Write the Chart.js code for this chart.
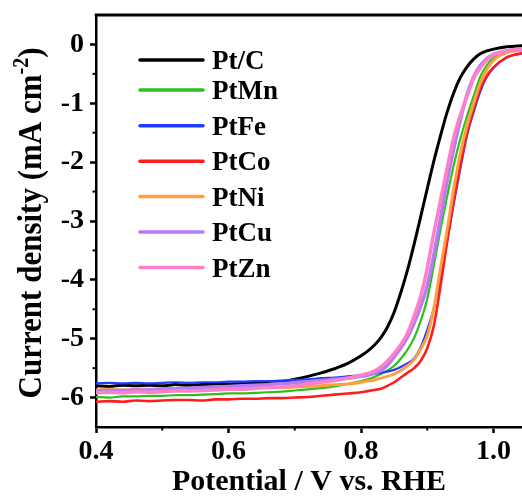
<!DOCTYPE html>
<html>
<head>
<meta charset="utf-8">
<script src="https://cdn.jsdelivr.net/npm/chart.js@4.4.0/dist/chart.umd.min.js"></script>
<style>
	html, body { margin: 0; padding: 0; background: #fff; overflow: hidden; }
	#wrap { width: 522px; height: 497px; }
</style>
</head>
<body>
<div id="wrap"><canvas id="lsvChart" width="522" height="497"></canvas></div>
<script>
// ===== DATA =====
const potential = [0.40, 0.42, 0.44, 0.46, 0.48, 0.50, 0.52, 0.54, 0.56, 0.58, 0.60, 0.62, 0.64, 0.66, 0.68, 0.70, 0.72, 0.74, 0.76, 0.78, 0.80,
	0.81, 0.82, 0.83, 0.84, 0.85, 0.86, 0.87, 0.88, 0.89, 0.90, 0.91, 0.92, 0.93, 0.94, 0.95, 0.96, 0.97, 0.98, 0.99, 1.00,
	1.02, 1.045];

const ptC = [-5.80, -5.81, -5.79, -5.80, -5.79, -5.80, -5.78, -5.79, -5.78, -5.77, -5.77, -5.76, -5.75, -5.74, -5.73, -5.69, -5.64, -5.58, -5.51, -5.42, -5.29,
	-5.21, -5.11, -4.98, -4.80, -4.55, -4.22, -3.84, -3.40, -2.93, -2.45, -1.98, -1.55, -1.15, -0.82, -0.56, -0.38, -0.25, -0.16, -0.11, -0.08,
	-0.04, -0.02];
const ptMn = [-5.99, -6.00, -5.98, -5.98, -5.97, -5.97, -5.96, -5.96, -5.95, -5.94, -5.93, -5.93, -5.92, -5.91, -5.90, -5.88, -5.86, -5.84, -5.81, -5.77, -5.72,
	-5.69, -5.65, -5.60, -5.54, -5.46, -5.34, -5.19, -4.99, -4.70, -4.32, -3.75, -3.14, -2.58, -2.05, -1.60, -1.22, -0.88, -0.55, -0.35, -0.23,
	-0.13, -0.09];
const ptFe = [-5.76, -5.75, -5.76, -5.75, -5.76, -5.75, -5.74, -5.75, -5.74, -5.74, -5.73, -5.73, -5.72, -5.72, -5.71, -5.70, -5.69, -5.67, -5.66, -5.64, -5.62,
	-5.61, -5.60, -5.58, -5.56, -5.53, -5.48, -5.42, -5.34, -5.15, -4.85, -4.48, -3.95, -3.35, -2.70, -2.10, -1.55, -1.15, -0.80, -0.55, -0.40,
	-0.22, -0.15];
const ptCo = [-6.07, -6.06, -6.07, -6.05, -6.06, -6.05, -6.04, -6.04, -6.05, -6.03, -6.03, -6.02, -6.02, -6.01, -6.01, -6.00, -5.99, -5.97, -5.95, -5.93, -5.91,
	-5.89, -5.87, -5.85, -5.80, -5.74, -5.66, -5.58, -5.50, -5.38, -5.16, -4.78, -4.10, -3.35, -2.65, -2.05, -1.50, -1.10, -0.75, -0.53, -0.39,
	-0.22, -0.14];
const ptNi = [-5.87, -5.86, -5.87, -5.86, -5.86, -5.85, -5.85, -5.85, -5.84, -5.84, -5.84, -5.83, -5.83, -5.83, -5.83, -5.82, -5.81, -5.80, -5.78, -5.77, -5.74,
	-5.72, -5.70, -5.67, -5.64, -5.60, -5.54, -5.46, -5.36, -5.18, -4.95, -4.48, -3.80, -3.15, -2.45, -1.85, -1.38, -1.00, -0.66, -0.42, -0.27,
	-0.14, -0.10];
const ptCu = [-5.89, -5.88, -5.88, -5.87, -5.87, -5.86, -5.85, -5.84, -5.83, -5.82, -5.81, -5.80, -5.79, -5.78, -5.76, -5.75, -5.73, -5.71, -5.69, -5.67, -5.64,
	-5.62, -5.59, -5.54, -5.45, -5.31, -5.16, -4.98, -4.74, -4.45, -4.10, -3.57, -2.95, -2.32, -1.77, -1.28, -0.85, -0.55, -0.36, -0.24, -0.17,
	-0.11, -0.08];
const ptZn = [-5.92, -5.91, -5.92, -5.90, -5.91, -5.90, -5.89, -5.89, -5.88, -5.87, -5.86, -5.86, -5.84, -5.83, -5.82, -5.80, -5.77, -5.74, -5.71, -5.67, -5.62,
	-5.59, -5.55, -5.48, -5.38, -5.25, -5.10, -4.91, -4.62, -4.28, -3.80, -3.20, -2.65, -2.10, -1.58, -1.20, -0.88, -0.58, -0.40, -0.26, -0.18,
	-0.11, -0.07];

const names = ['Pt/C', 'PtMn', 'PtFe', 'PtCo', 'PtNi', 'PtCu', 'PtZn'];
const series = [ptC, ptMn, ptFe, ptCo, ptNi, ptCu, ptZn];
const colors = ['#000000', '#2cc01c', '#1f3dff', '#ff1c1c', '#ffa040', '#b57cf6', '#ff80c9'];
const widths = [3, 2.2, 2.2, 2.6, 3, 3.5, 3.5];

const xTicks = [0.4, 0.6, 0.8, 1.0];
const yTicks = [-6, -5, -4, -3, -2, -1, 0];

const FONT = '"Liberation Serif", "Times New Roman", serif';

// ===== PLUGINS =====
// top frame line + minor ticks
const frame = {
	id: 'frame',
	afterDraw(chart) {
		const { ctx, chartArea: a, scales: { x, y } } = chart;
		ctx.save();
		ctx.strokeStyle = '#000';
		ctx.lineWidth = 3;
		ctx.beginPath();
		ctx.moveTo(a.left - 1.25, a.top);
		ctx.lineTo(a.right, a.top);
		ctx.stroke();

		ctx.lineWidth = 2;
		x.ticks.forEach(t => {
			const v = t.value + 0.1;
			if (v < x.max) {
				const px = x.getPixelForValue(v);
				ctx.beginPath();
				ctx.moveTo(px, a.bottom);
				ctx.lineTo(px, a.bottom + 3.5);
				ctx.stroke();
			}
		});
		y.ticks.forEach(t => {
			const v = t.value + 0.5;
			if (v < y.max) {
				const py = y.getPixelForValue(v);
				ctx.beginPath();
				ctx.moveTo(a.left, py);
				ctx.lineTo(a.left - 3.5, py);
				ctx.stroke();
			}
		});
		ctx.restore();
	}
};

// y axis title with a real superscript
const yTitle = {
	id: 'yTitle',
	afterDraw(chart) {
		const { ctx, chartArea: a } = chart;
		const main = 'Current density (mA cm';
		const sup = '-2';
		const tail = ')';
		ctx.save();
		ctx.fillStyle = '#000';
		ctx.textBaseline = 'alphabetic';
		ctx.font = 'bold 31px ' + FONT;
		const wMain = ctx.measureText(main).width;
		const wTail = ctx.measureText(tail).width;
		ctx.font = 'bold 20px ' + FONT;
		const wSup = ctx.measureText(sup).width;
		const total = wMain + wSup + wTail;
		ctx.translate(41, (a.top + a.bottom) / 2 + 2);
		ctx.rotate(-Math.PI / 2);
		ctx.scale(1, 1.12);
		let cx = -total / 2;
		ctx.font = 'bold 31px ' + FONT;
		ctx.fillText(main, cx, 0);
		cx += wMain;
		ctx.font = 'bold 20px ' + FONT;
		ctx.fillText(sup, cx, -12);
		cx += wSup;
		ctx.font = 'bold 31px ' + FONT;
		ctx.fillText(tail, cx, 0);
		ctx.restore();
	}
};

// legend inside the plot
const legendRows = [60, 90, 125.7, 161.3, 196.5, 232, 267.5];
const insideLegend = {
	id: 'insideLegend',
	afterDatasetsDraw(chart) {
		const ctx = chart.ctx;
		ctx.save();
		ctx.font = 'bold 27px ' + FONT;
		ctx.textBaseline = 'alphabetic';
		ctx.lineCap = 'round';
		chart.data.datasets.forEach((ds, i) => {
			const yy = legendRows[i];
			ctx.strokeStyle = ds.borderColor;
			ctx.lineWidth = 3.5;
			ctx.beginPath();
			ctx.moveTo(140, yy);
			ctx.lineTo(203, yy);
			ctx.stroke();
			ctx.fillStyle = '#000';
			ctx.fillText(ds.label, 212, yy + 9);
		});
		ctx.restore();
	}
};

// ===== CHART =====
const ctx = document.getElementById('lsvChart').getContext('2d');

new Chart(ctx, {
	type: 'line',
	data: {
		datasets: names.map((name, i) => ({
			label: name,
			data: potential.map((p, k) => ({ x: p, y: series[i][k] })),
			borderColor: colors[i],
			borderWidth: widths[i],
			pointRadius: 0,
			fill: false,
			cubicInterpolationMode: 'monotone',
			order: names.length - i
		}))
	},
	options: {
		responsive: false,
		animation: false,
		devicePixelRatio: 1,
		layout: { padding: { top: 15, right: 0, left: 0, bottom: 0 } },
		plugins: {
			legend: { display: false },
			tooltip: { enabled: false }
		},
		scales: {
			x: {
				type: 'linear',
				min: 0.4,
				max: 1.043,
				afterFit(s) { s.height = 70; s.paddingLeft = 0; s.paddingRight = 0; },
				afterBuildTicks(s) { s.ticks = xTicks.map(v => ({ value: v })); },
				ticks: {
					maxRotation: 0,
					autoSkip: false,
					padding: 2,
					color: '#000',
					font: { family: FONT, size: 28, weight: 'bold' },
					callback: v => v.toFixed(1)
				},
				grid: { drawOnChartArea: false, drawTicks: true, tickLength: 6, tickWidth: 2.5, tickColor: '#000' },
				border: { display: true, color: '#000', width: 2.5 },
				title: {
					display: true,
					text: 'Potential / V vs. RHE',
					color: '#000',
					font: { family: FONT, size: 30, weight: 'bold', lineHeight: 1 },
					padding: 0
				}
			},
			y: {
				min: -6.5,
				max: 0.5,
				afterFit(s) { s.width = 96; s.paddingTop = 0; s.paddingBottom = 0; },
				afterBuildTicks(s) { s.ticks = yTicks.map(v => ({ value: v })); },
				ticks: {
					autoSkip: false,
					padding: 6,
					color: '#000',
					font: { family: FONT, size: 28, weight: 'bold' },
					callback: v => String(v)
				},
				grid: { drawOnChartArea: false, drawTicks: true, tickLength: 6, tickWidth: 2.5, tickColor: '#000' },
				border: { display: true, color: '#000', width: 2.5 },
				title: { display: false }
			}
		}
	},
	plugins: [frame, yTitle, insideLegend]
});
</script>
</body>
</html>
